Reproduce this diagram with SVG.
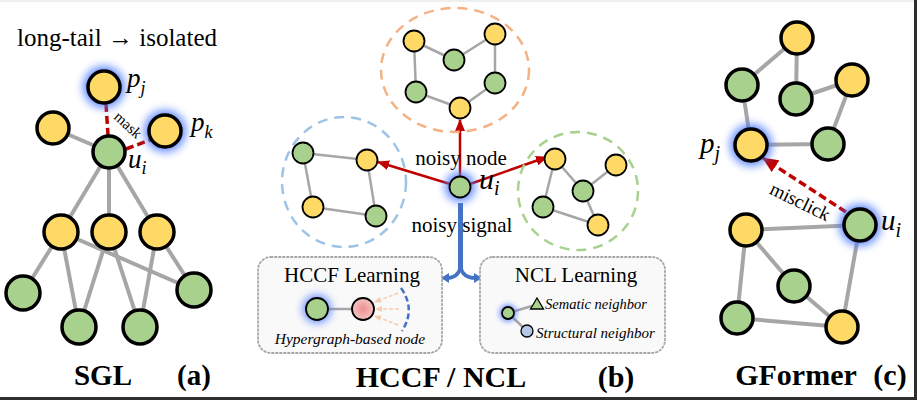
<svg xmlns="http://www.w3.org/2000/svg" width="917" height="400" viewBox="0 0 917 400">
  <defs>
    <style>
      .y{fill:#FFD966;stroke:#000;stroke-width:3.5}
      .g{fill:#A9D18E;stroke:#000;stroke-width:3.5}
      .ys{fill:#FFD966;stroke:#000;stroke-width:1.8}
      .gs{fill:#A9D18E;stroke:#000;stroke-width:1.8}
      .e{stroke:#A6A6A6;stroke-width:4;fill:none}
      .es{stroke:#A6A6A6;stroke-width:2.5;fill:none}
      text{font-family:'Liberation Serif','DejaVu Serif',serif;fill:#000}
      .b{font-weight:bold}
      .it{font-style:italic}
      .halo{fill:#4a78ff;opacity:.85;filter:url(#blur)}
      .ring{fill:none;stroke-width:2.5;stroke-dasharray:10 7}
      .red{stroke:#C00000;stroke-width:2.5;fill:none}
      .reddash{stroke:#C00000;stroke-width:3.5;fill:none;stroke-dasharray:8 4}
      .box{fill:#F9F9F9;stroke:#A6A6A6;stroke-width:1.8;stroke-dasharray:1.6 2.4;stroke-linecap:round}
      .peach{stroke:#F8CBAD;stroke-width:1.5;fill:none;stroke-dasharray:4 2}
      .blue{stroke:#4472C4;fill:none}
    </style>
    <filter id="blur" x="-60%" y="-60%" width="220%" height="220%">
      <feGaussianBlur stdDeviation="4"/>
    </filter>
    <filter id="blurS" x="-60%" y="-60%" width="220%" height="220%">
      <feGaussianBlur stdDeviation="2.5"/>
    </filter>
    <radialGradient id="pink" cx="0.5" cy="0.5" r="0.5">
      <stop offset="0" stop-color="#EE8F8F"/>
      <stop offset="1" stop-color="#F6C3C3"/>
    </radialGradient>
    <marker id="arrR" markerUnits="userSpaceOnUse" markerWidth="12" markerHeight="10" refX="11" refY="5" orient="auto">
      <path d="M0,0 L12,5 L0,10 Z" fill="#C00000"/>
    </marker>
    <marker id="arrRL" markerUnits="userSpaceOnUse" markerWidth="16" markerHeight="14" refX="15" refY="7" orient="auto">
      <path d="M0,0 L16,7 L0,14 Z" fill="#C00000"/>
    </marker>
    <marker id="arrP" markerUnits="userSpaceOnUse" markerWidth="7" markerHeight="6" refX="6" refY="3" orient="auto">
      <path d="M0,0 L7,3 L0,6 Z" fill="#F8CBAD"/>
    </marker>
  </defs>

  <rect x="0" y="0" width="917" height="400" fill="#fff"/>
  <rect x="0" y="0" width="917" height="2" fill="#EFEFEF"/>
  <rect x="0" y="397" width="917" height="3" fill="#2E2E2E"/>
  <rect x="914" y="0" width="3" height="400" fill="#2E2E2E"/>

  <!-- connectors -->
  <g id="connectors">
    <!-- (a) SGL -->
    <line class="e" x1="53" y1="128" x2="109" y2="152"/>
    <line class="e" x1="109" y1="152" x2="61" y2="232"/>
    <line class="e" x1="109" y1="152" x2="109" y2="232"/>
    <line class="e" x1="109" y1="152" x2="157" y2="232"/>
    <line class="e" x1="61" y1="232" x2="23" y2="293"/>
    <line class="e" x1="61" y1="232" x2="79" y2="327"/>
    <line class="e" x1="61" y1="232" x2="194" y2="290"/>
    <line class="e" x1="109" y1="232" x2="79" y2="327"/>
    <line class="e" x1="109" y1="232" x2="140" y2="327"/>
    <line class="e" x1="157" y1="232" x2="140" y2="327"/>
    <line class="e" x1="157" y1="232" x2="194" y2="290"/>
    <line class="reddash" x1="106" y1="104" x2="108" y2="135"/>
    <line class="reddash" x1="126" y1="149" x2="150" y2="140"/>

    <!-- (b) top cluster -->
    <line class="es" x1="414" y1="41" x2="454" y2="60"/>
    <line class="es" x1="454" y1="60" x2="495" y2="34"/>
    <line class="es" x1="495" y1="34" x2="495" y2="83"/>
    <line class="es" x1="414" y1="41" x2="416" y2="92"/>
    <line class="es" x1="416" y1="92" x2="460" y2="108"/>
    <line class="es" x1="460" y1="108" x2="495" y2="83"/>
    <!-- (b) left cluster -->
    <line class="es" x1="303" y1="153" x2="367" y2="160"/>
    <line class="es" x1="303" y1="153" x2="313" y2="207"/>
    <line class="es" x1="313" y1="207" x2="376" y2="216"/>
    <line class="es" x1="367" y1="160" x2="376" y2="216"/>
    <!-- (b) right cluster -->
    <line class="es" x1="555" y1="159" x2="583" y2="191"/>
    <line class="es" x1="583" y1="191" x2="616" y2="165"/>
    <line class="es" x1="555" y1="159" x2="543" y2="207"/>
    <line class="es" x1="543" y1="207" x2="598" y2="225"/>
    <line class="es" x1="583" y1="191" x2="598" y2="225"/>
    <!-- noisy node arrows -->
    <line class="red" x1="460" y1="177" x2="460" y2="120" marker-end="url(#arrR)"/>
    <line class="red" x1="450" y1="184" x2="378" y2="162" marker-end="url(#arrR)"/>
    <line class="red" x1="470" y1="184" x2="547" y2="157" marker-end="url(#arrR)"/>
    <!-- noisy signal bracket -->
    <line class="blue" x1="460.5" y1="203" x2="460.5" y2="268" stroke-width="5"/>
    <path class="blue" stroke-width="3.5" d="M447,278 Q458,278 460.5,267 Q463,278 475,278"/>
    <path d="M441,278 L449,273 L449,283 Z" fill="#4472C4"/>
    <path d="M482,278 L474,273 L474,283 Z" fill="#4472C4"/>

    <!-- (c) GFormer -->
    <line class="e" x1="797" y1="38" x2="742" y2="85"/>
    <line class="e" x1="797" y1="38" x2="796" y2="99"/>
    <line class="e" x1="796" y1="99" x2="852" y2="80"/>
    <line class="e" x1="852" y1="80" x2="828" y2="144"/>
    <line class="e" x1="742" y1="85" x2="751" y2="145"/>
    <line class="e" x1="751" y1="145" x2="828" y2="144"/>
    <line class="e" x1="746" y1="230" x2="860" y2="225"/>
    <line class="e" x1="746" y1="230" x2="794" y2="286"/>
    <line class="e" x1="794" y1="286" x2="842" y2="327"/>
    <line class="e" x1="746" y1="230" x2="737" y2="318"/>
    <line class="e" x1="737" y1="318" x2="842" y2="327"/>
    <line class="e" x1="860" y1="225" x2="842" y2="327"/>
    <line class="reddash" stroke-width="4" stroke-dasharray="10 6" x1="846" y1="212" x2="763" y2="158" marker-end="url(#arrRL)"/>
  </g>

  <!-- (a) SGL -->
  <text x="117" y="46" font-size="25" text-anchor="middle">long-tail → isolated</text>
  <g id="a-pj">
    <circle class="halo" cx="104" cy="87" r="21"/>
    <circle class="y" cx="104" cy="87" r="16"/>
    <text class="it" x="127" y="87" font-size="27">p<tspan font-size="18" dy="7">j</tspan></text>
  </g>
  <g id="a-pk">
    <circle class="halo" cx="165" cy="131" r="21"/>
    <circle class="y" cx="165" cy="131" r="16"/>
    <text class="it" x="191" y="131" font-size="27">p<tspan font-size="18" dy="7">k</tspan></text>
  </g>
  <g id="a-y0"><circle class="y" cx="53" cy="128" r="16"/></g>
  <g id="a-ui">
    <circle class="g" cx="109" cy="152" r="16"/>
    <text class="it" x="128" y="168" font-size="27">u<tspan font-size="18" dy="6">i</tspan></text>
  </g>
  <text x="0" y="0" font-size="15" transform="translate(128,125) rotate(42)" text-anchor="middle" dy="5">mask</text>
  <g id="a-y1"><circle class="y" cx="61" cy="232" r="17"/></g>
  <g id="a-y2"><circle class="y" cx="109" cy="232" r="17"/></g>
  <g id="a-y3"><circle class="y" cx="157" cy="232" r="17"/></g>
  <g id="a-g1"><circle class="g" cx="23" cy="293" r="17"/></g>
  <g id="a-g2"><circle class="g" cx="79" cy="327" r="17"/></g>
  <g id="a-g3"><circle class="g" cx="140" cy="327" r="17"/></g>
  <g id="a-g4"><circle class="g" cx="194" cy="290" r="17"/></g>
  <text class="b" x="103" y="385" font-size="29" text-anchor="middle">SGL</text>
  <text class="b" x="194" y="385" font-size="29" text-anchor="middle">(a)</text>

  <!-- (b) HCCF / NCL -->
  <g id="ring-top"><ellipse class="ring" cx="455" cy="70" rx="74" ry="62" stroke="#F4B183"/></g>
  <g id="ring-left"><ellipse class="ring" cx="344" cy="182" rx="62" ry="65" stroke="#9DC3E6"/></g>
  <g id="ring-right"><ellipse class="ring" cx="578" cy="191" rx="60" ry="59" stroke="#A9D18E"/></g>

  <g id="b-t1"><circle class="ys" cx="414" cy="41" r="10.5"/></g>
  <g id="b-t2"><circle class="gs" cx="454" cy="60" r="10.5"/></g>
  <g id="b-t3"><circle class="ys" cx="495" cy="34" r="10.5"/></g>
  <g id="b-t4"><circle class="gs" cx="416" cy="92" r="10.5"/></g>
  <g id="b-t5"><circle class="gs" cx="495" cy="83" r="10.5"/></g>
  <g id="b-t6"><circle class="ys" cx="460" cy="108" r="10.5"/></g>

  <g id="b-l1"><circle class="gs" cx="303" cy="153" r="10.5"/></g>
  <g id="b-l2"><circle class="ys" cx="367" cy="160" r="10.5"/></g>
  <g id="b-l3"><circle class="ys" cx="313" cy="207" r="10.5"/></g>
  <g id="b-l4"><circle class="gs" cx="376" cy="216" r="10.5"/></g>

  <g id="b-r1"><circle class="ys" cx="555" cy="159" r="10.5"/></g>
  <g id="b-r2"><circle class="ys" cx="616" cy="165" r="10.5"/></g>
  <g id="b-r3"><circle class="gs" cx="583" cy="191" r="10.5"/></g>
  <g id="b-r4"><circle class="gs" cx="543" cy="207" r="10.5"/></g>
  <g id="b-r5"><circle class="ys" cx="598" cy="225" r="10.5"/></g>

  <text x="461" y="165" font-size="21" text-anchor="middle">noisy node</text>
  <g id="b-ui">
    <circle class="halo" cx="460" cy="187" r="15"/>
    <circle class="gs" cx="460" cy="187" r="10.5"/>
    <text class="it" x="479" y="189" font-size="30">u<tspan font-size="20" dy="6">i</tspan></text>
  </g>
  <text x="462" y="232" font-size="21" text-anchor="middle">noisy signal</text>

  <g id="hccf">
    <rect class="box" x="258" y="257" width="184" height="96" rx="13"/>
    <text x="352" y="282" font-size="21" text-anchor="middle">HCCF Learning</text>
    <line class="es" x1="317" y1="309" x2="363" y2="309"/>
    <line class="peach" x1="398" y1="293" x2="375" y2="302" marker-end="url(#arrP)"/>
    <line class="peach" x1="399" y1="309" x2="376" y2="309" marker-end="url(#arrP)"/>
    <line class="peach" x1="398" y1="325" x2="375" y2="316" marker-end="url(#arrP)"/>
    <path class="blue" stroke-width="2.5" stroke-dasharray="6 3" d="M401,288 Q416,309 402,331"/>
    <circle class="halo" cx="317" cy="309" r="14"/>
    <circle class="gs" cx="317" cy="309" r="11"/>
    <circle cx="363" cy="309" r="11" fill="url(#pink)" stroke="#000" stroke-width="1.8"/>
    <text class="it" x="350" y="344" font-size="15.5" text-anchor="middle">Hypergraph-based node</text>
  </g>

  <g id="ncl">
    <rect class="box" x="480" y="257" width="185" height="96" rx="13"/>
    <text x="576" y="282" font-size="21" text-anchor="middle">NCL Learning</text>
    <line class="es" x1="508" y1="313" x2="532" y2="306"/>
    <line class="es" x1="508" y1="313" x2="527" y2="331"/>
    <circle cx="508" cy="313" r="9" fill="#4a78ff" opacity=".7" filter="url(#blurS)"/>
    <circle class="gs" cx="508" cy="313" r="6" stroke-width="1.3"/>
    <path d="M537,298 L543.5,309 L530.5,309 Z" fill="#A9D18E" stroke="#000" stroke-width="1.3"/>
    <circle cx="527" cy="331" r="6" fill="#B4C7E7" stroke="#000" stroke-width="1.3"/>
    <text class="it" x="545" y="309" font-size="14.5">Sematic neighbor</text>
    <text class="it" x="536" y="338" font-size="15">Structural neighbor</text>
  </g>
  <text class="b" x="441" y="387" font-size="30" text-anchor="middle">HCCF / NCL</text>
  <text class="b" x="616" y="387" font-size="30" text-anchor="middle">(b)</text>

  <!-- (c) GFormer -->
  <g id="c-y1"><circle class="y" cx="797" cy="38" r="16"/></g>
  <g id="c-g1"><circle class="g" cx="742" cy="85" r="16"/></g>
  <g id="c-g2"><circle class="g" cx="796" cy="99" r="16"/></g>
  <g id="c-y2"><circle class="y" cx="852" cy="80" r="16"/></g>
  <g id="c-pj">
    <circle class="halo" cx="751" cy="145" r="21"/>
    <circle class="y" cx="751" cy="145" r="16"/>
    <text class="it" x="700" y="153" font-size="29">p<tspan font-size="20" dy="7">j</tspan></text>
  </g>
  <g id="c-g3"><circle class="g" cx="828" cy="144" r="16"/></g>
  <g id="c-y3"><circle class="y" cx="746" cy="230" r="16"/></g>
  <g id="c-ui">
    <circle class="halo" cx="860" cy="225" r="21"/>
    <circle class="g" cx="860" cy="225" r="16"/>
    <text class="it" x="881" y="230" font-size="29">u<tspan font-size="20" dy="7">i</tspan></text>
  </g>
  <g id="c-g4"><circle class="g" cx="794" cy="286" r="16"/></g>
  <g id="c-g5"><circle class="g" cx="737" cy="318" r="16"/></g>
  <g id="c-y4"><circle class="y" cx="842" cy="327" r="16"/></g>
  <text x="0" y="0" font-size="19" transform="translate(800,202) rotate(26)" text-anchor="middle" dy="6">misclick</text>
  <text class="b" x="796" y="385" font-size="30" text-anchor="middle">GFormer</text>
  <text class="b" x="890" y="385" font-size="30" text-anchor="middle">(c)</text>
</svg>
